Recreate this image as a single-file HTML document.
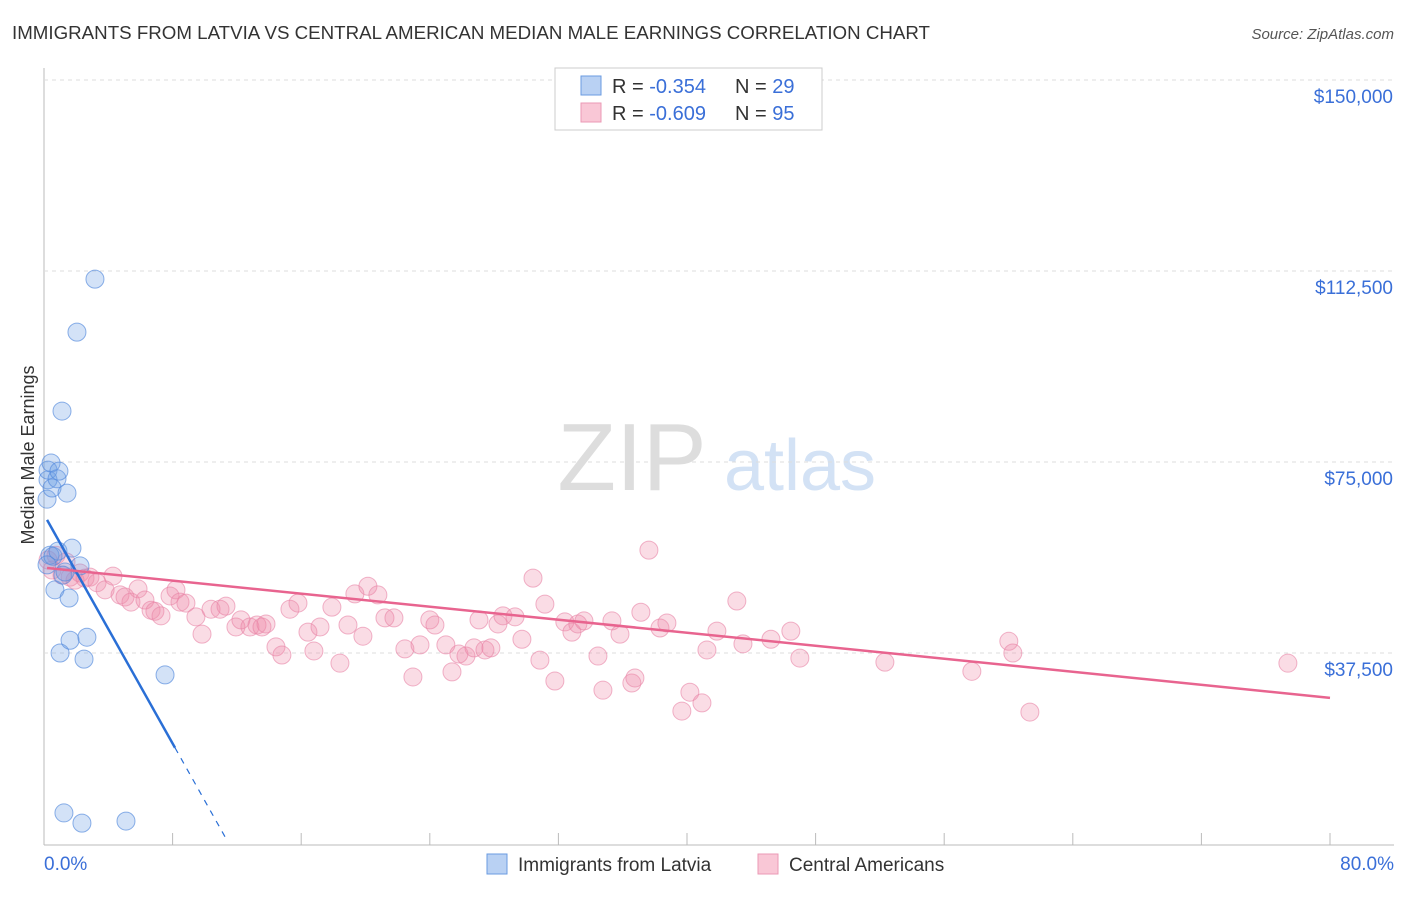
<!DOCTYPE html>
<html><head><meta charset="utf-8"><style>
body{margin:0;background:#fff;font-family:"Liberation Sans",sans-serif;}
svg text{font-family:"Liberation Sans",sans-serif;}
</style></head><body>
<svg width="1406" height="892" viewBox="0 0 1406 892" id="chart">
<text x="12" y="39" font-size="18" fill="#333" textLength="918" lengthAdjust="spacingAndGlyphs">IMMIGRANTS FROM LATVIA VS CENTRAL AMERICAN MEDIAN MALE EARNINGS CORRELATION CHART</text>
<text x="1394" y="39" font-size="15" fill="#555" font-style="italic" text-anchor="end">Source: ZipAtlas.com</text>
<text x="34" y="455" font-size="18" fill="#333" text-anchor="middle" transform="rotate(-90 34 455)">Median Male Earnings</text>
<g><text x="632" y="490" font-size="96" fill="#ddd" font-family="Liberation Serif" text-anchor="middle">ZIP</text><text x="800" y="490" font-size="72" fill="#d3e2f5" text-anchor="middle">atlas</text></g>
<g id="grid"></g><g id="marks"></g>
<g>
<rect x="555" y="68" width="267" height="62" fill="#fff" stroke="#ccc"/>
<rect x="581" y="76" width="20" height="19" fill="#b9d1f3" stroke="#6a9be0"/>
<rect x="581" y="103" width="20" height="19" fill="#f9c7d6" stroke="#eb9ab5"/>
<text x="612" y="93" font-size="20" fill="#333">R = <tspan fill="#3a6fd8">-0.354</tspan></text>
<text x="735" y="93" font-size="20" fill="#333">N = <tspan fill="#3a6fd8">29</tspan></text>
<text x="612" y="120" font-size="20" fill="#333">R = <tspan fill="#3a6fd8">-0.609</tspan></text>
<text x="735" y="120" font-size="20" fill="#333">N = <tspan fill="#3a6fd8">95</tspan></text>
</g>
<g>
<rect x="487" y="854" width="20" height="20" fill="#b9d1f3" stroke="#6a9be0"/>
<text x="518" y="871" font-size="19" fill="#333">Immigrants from Latvia</text>
<rect x="758" y="854" width="20" height="20" fill="#f9c7d6" stroke="#eb9ab5"/>
<text x="789" y="871" font-size="19" fill="#333">Central Americans</text>
</g>
</svg>
<script>
const yTicks=[37500,75000,112500,150000];
const yTickLabels=["$37,500","$75,000","$112,500","$150,000"];
const xTickLabels=["0.0%","80.0%"];
const bluePct=[0.19,0.25,0.25,0.37,0.44,0.5,0.56,0.68,0.81,0.87,0.93,1.0,1.12,1.18,1.24,1.31,1.43,1.56,1.62,1.74,2.05,2.24,2.36,2.49,2.67,3.17,5.1,7.53,0.19];
const blueVal=[67.7,71.5,73.4,56.7,74.8,69.9,56.5,49.9,71.7,57.5,73.2,37.5,85.0,52.8,6.1,53.4,68.9,48.3,40.0,58.1,100.5,54.6,4.1,36.3,40.6,110.9,4.5,33.2,54.8];
const pinkPct=[0.25,0.5,0.75,1.12,1.37,1.62,1.93,2.24,2.55,2.86,3.3,3.8,4.29,4.73,5.04,5.41,5.85,6.28,6.66,6.9,7.28,7.84,8.21,8.46,8.83,9.45,9.83,10.39,10.95,11.32,11.94,12.25,12.81,13.25,13.56,13.81,14.43,14.8,15.3,15.8,16.42,16.79,17.17,17.91,18.41,18.91,19.34,19.84,20.15,20.77,21.21,21.77,22.45,22.95,23.39,24.0,24.32,25.0,25.38,25.81,26.25,26.75,27.06,27.43,27.8,28.24,28.55,29.3,29.73,30.42,30.85,31.16,31.78,32.4,32.84,33.21,33.59,34.46,34.77,35.33,35.83,36.57,36.76,37.13,37.63,38.32,38.75,39.68,40.18,40.93,41.24,41.86,43.1,43.48,45.22,46.46,47.02,52.31,57.72,60.02,60.27,61.33,77.38];
const pinkVal=[55.75,53.8,56.7,52.8,55.4,52.4,51.8,53.2,52.2,52.4,51.3,49.9,52.6,48.9,48.5,47.5,50.1,47.9,45.9,45.7,44.8,48.7,49.9,47.5,47.3,44.6,41.2,46.1,46.1,46.7,42.6,44.0,42.6,43.0,42.6,43.2,38.7,37.1,46.1,47.3,41.6,37.9,42.6,46.5,35.5,43.0,49.1,40.8,50.6,48.9,44.4,44.4,38.3,32.8,39.1,44.0,43.0,39.1,33.8,37.3,36.9,38.5,44.0,38.1,38.5,43.2,44.8,44.6,40.2,52.2,36.1,47.1,32.0,43.6,41.6,43.2,43.8,36.9,30.2,43.8,41.2,31.6,32.6,45.5,57.7,42.4,43.4,26.1,29.8,27.7,38.1,41.8,47.7,39.3,40.2,41.8,36.5,35.7,33.9,39.8,37.5,25.9,35.5];
const blueTrend=[64.7,-5.62];
const pinkTrend=[54.26,-0.3195];
const NS="http://www.w3.org/2000/svg";
function X(p){return 44+p*(1330-44)/80;}
function Y(v){return 80+(150000-v)*191/37500;}
function el(t,a,parent){const e=document.createElementNS(NS,t);for(const k in a)e.setAttribute(k,a[k]);parent.appendChild(e);return e;}
const grid=document.getElementById('grid'),marks=document.getElementById('marks');
let ax=el('line',{x1:44,y1:68,x2:44,y2:845,stroke:'#bbb'},grid);


let bx=el('line',{x1:44,y1:845,x2:1394,y2:845,stroke:'#bbb'},grid);


for(let i=0;i<=10;i++){const t=el('line',{x1:X(i*8),y1:833,x2:X(i*8),y2:845,stroke:'#bbb'},grid);

}
yTicks.forEach((v,i)=>{const g=el('line',{x1:44,y1:Y(v),x2:1394,y2:Y(v),stroke:'#ddd','stroke-dasharray':'4,4'},grid);


const t=el('text',{x:1393,y:Y(v)+23,'font-size':19,fill:'#3a6fd8','text-anchor':'end'},grid);t.textContent=yTickLabels[i];

});
[[0,'start',44],[80,'end',1394]].forEach((d,i)=>{const t=el('text',{x:d[2],y:870,'font-size':19,fill:'#3a6fd8','text-anchor':d[1]},grid);t.textContent=xTickLabels[i];

});
pinkPct.forEach((p,i)=>{const c=el('circle',{cx:X(p),cy:Y(pinkVal[i]*1000),r:9,fill:'rgba(240,140,170,0.3)',stroke:'rgba(232,130,165,0.6)'},marks);

});
bluePct.forEach((p,i)=>{const c=el('circle',{cx:X(p),cy:Y(blueVal[i]*1000),r:9,fill:'rgba(110,160,230,0.3)',stroke:'rgba(80,135,220,0.65)'},marks);

});
function tv(t,p){return (t[0]+t[1]*p)*1000;}
let l1=el('line',{x1:X(0.19),y1:Y(tv(blueTrend,0.19)),x2:X(8.15),y2:Y(tv(blueTrend,8.15)),stroke:'#2a6fd6','stroke-width':2.5},marks);


let l2=el('line',{x1:X(8.15),y1:Y(tv(blueTrend,8.15)),x2:X(11.3),y2:Y(tv(blueTrend,11.3)),stroke:'#2a6fd6','stroke-width':1.2,'stroke-dasharray':'6,6'},marks);


let l3=el('line',{x1:X(0.19),y1:Y(tv(pinkTrend,0.19)),x2:X(80),y2:Y(tv(pinkTrend,80)),stroke:'#e8648f','stroke-width':2.5},marks);


</script>
</body></html>
